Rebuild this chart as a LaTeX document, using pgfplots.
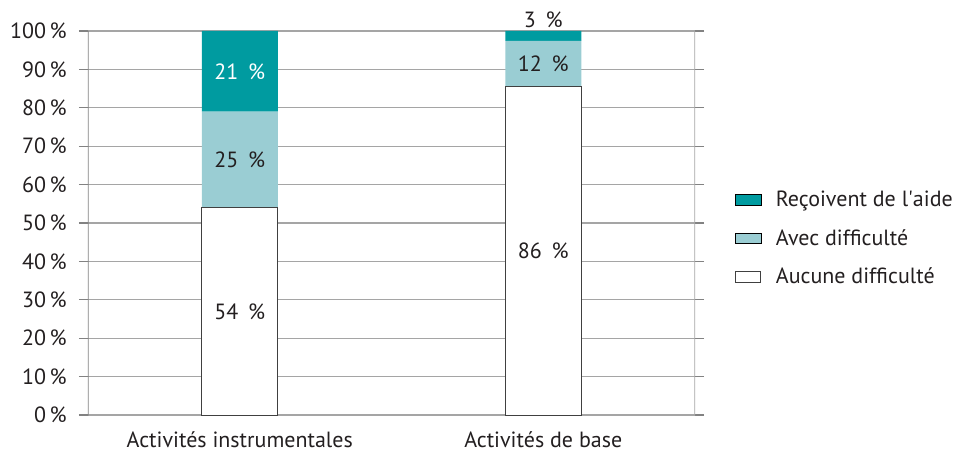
\documentclass[border=0pt]{standalone}
\usepackage{fontspec}
\setmainfont{PT Sans}
\usepackage{pgfplots}
\pgfplotsset{compat=1.18}
\usepackage{pgfplotstable}
\definecolor{aide}{RGB}{0,155,160}
\definecolor{avec}{RGB}{154,205,211}
\definecolor{txt}{RGB}{35,31,32}
\definecolor{gridc}{RGB}{165,165,165}
\definecolor{axisc}{RGB}{130,130,130}
\pgfkeys{/pgf/number format/assume math mode=true}

% one table per series: x, value, extra label shift (pt), white share of label colour
\pgfplotstableread{
x y off w
1 54 0 0
2 85.6 0 0
}\aucune
\pgfplotstableread{
x y off w
1 25 0 0
2 11.8 0 0
}\avecd
\pgfplotstableread{
x y off w
1 21 0 100
2 2.6 12 0
}\recoivent

\begin{document}
\begin{tikzpicture}
\path[use as bounding box] (-66pt,-28.5pt) rectangle (653.25pt,311.25pt);
\begin{axis}[
    scale only axis, width=455.25pt, height=288pt,
    xmin=0.5, xmax=2.5, ymin=0, ymax=100,
    ybar stacked, bar width=57pt,
    axis line style={draw=none},
    ymajorgrids, grid style={gridc, line width=0.8pt},
    ytick={0,10,...,100},
    yticklabel={\pgfmathprintnumber{\tick}\,\%},
    y tick style={axisc, line width=0.8pt},
    tick align=outside, major tick length=6.75pt,
    xtick={1,2},
    xticklabels={Activités instrumentales, Activités de base},
    x tick style={draw=none},
    tick label style={font=\fontsize{16.5}{19}\selectfont, text=txt},
    yticklabel style={inner sep=0pt, xshift=-9pt},
    xticklabel style={inner sep=0pt, yshift=-5.5pt},
    point meta=explicit,
    nodes near coords={\pgfmathprintnumber[fixed,precision=0]{\pgfplotspointmeta}\hspace{0.45em}\%},
    visualization depends on={\thisrow{off} \as \off},
    visualization depends on={\thisrow{w} \as \wc},
    every node near coord/.append style={anchor=center, font=\fontsize{16.5}{19}\selectfont,
        text=white!\wc!txt, yshift=\off pt},
    legend style={at={(1.059,0.46)}, anchor=west, draw=none, fill=none,
        font=\fontsize{16.5}{19}\selectfont, text=txt, row sep=11.5pt,
        /tikz/every odd column/.append style={column sep=9pt}},
    legend cell align=left,
    reverse legend,
    legend image code/.code={\draw[#1] (0pt,-4pt) rectangle (19pt,4pt);},
]
\addplot[fill=white, draw=black!75, line width=0.6pt] table[x=x, y=y, meta=y] {\aucune};
\addplot[fill=avec, draw=none] table[x=x, y=y, meta=y] {\avecd};
\addplot[fill=aide, draw=none] table[x=x, y=y, meta=y] {\recoivent};
\legend{Aucune difficulté, Avec difficulté, Reçoivent de l\textquotesingle aide}
\draw[axisc, line width=0.8pt] (axis cs:0.5,100) -- (axis cs:0.5,0) -- ++(0,-7.5pt);
\draw[gridc, line width=0.8pt] (axis cs:2.5,100) -- (axis cs:2.5,0) -- ++(0,-7.5pt);
\draw[gridc, line width=0.8pt] (axis cs:1.5,0) -- ++(0,-7.5pt);
\end{axis}
\end{tikzpicture}
\end{document}
